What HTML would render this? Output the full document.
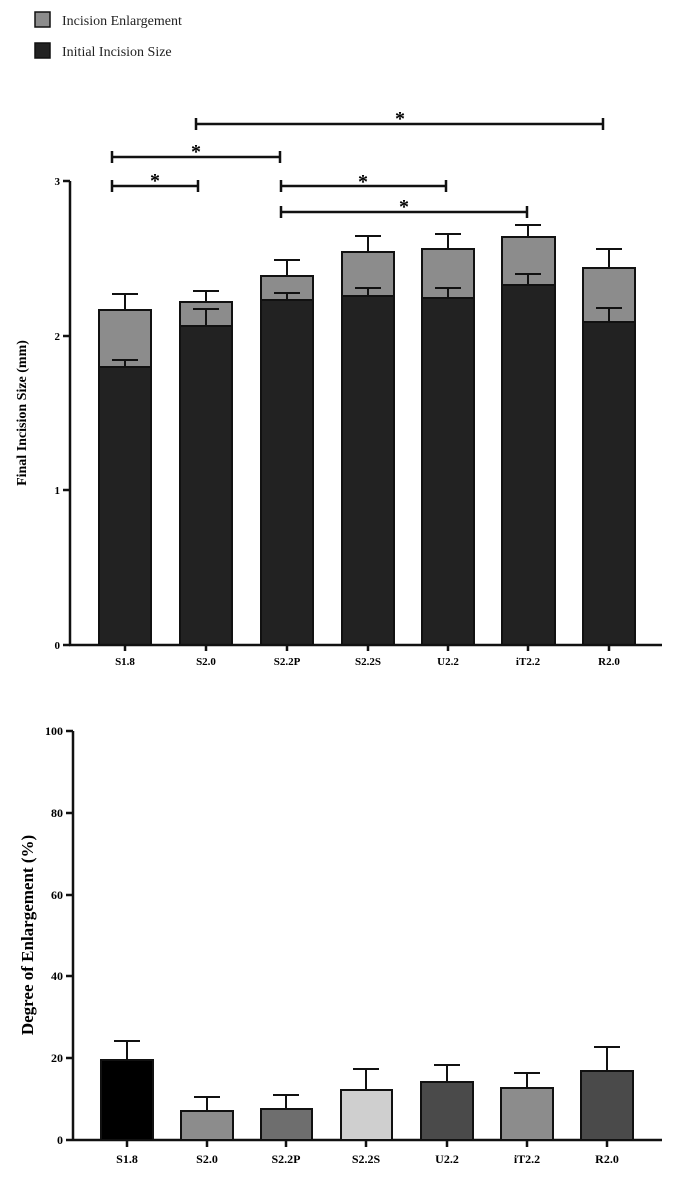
<!DOCTYPE html><html><head><style>body{margin:0;background:#fff}svg{display:block}text{font-family:"Liberation Serif",serif}</style></head><body>
<svg width="700" height="1185" viewBox="0 0 700 1185">
<g stroke="#111" stroke-width="1.5">
<rect x="35" y="12" width="15" height="15" fill="#8c8c8c"/>
<rect x="35" y="43" width="15" height="15" fill="#222"/>
</g>
<text x="62" y="25" font-size="14" fill="#222">Incision Enlargement</text>
<text x="62" y="56" font-size="14" fill="#222">Initial Incision Size</text>
<!-- top axes -->
<g stroke="#111" stroke-width="2.5" fill="none">
<line x1="70" y1="181" x2="70" y2="646"/>
<line x1="63" y1="181" x2="70" y2="181"/><line x1="63" y1="336" x2="70" y2="336"/><line x1="63" y1="490" x2="70" y2="490"/>
<line x1="63" y1="645" x2="70" y2="645"/>
</g>
<g font-size="11" font-weight="bold" text-anchor="end"><text x="60" y="185">3</text><text x="60" y="340">2</text><text x="60" y="494">1</text><text x="60" y="649">0</text></g>
<text transform="translate(26,413) rotate(-90)" font-size="14" font-weight="bold" text-anchor="middle">Final Incision Size (mm)</text>
<g stroke="#111" stroke-width="2">
<!-- bars: x, total, init, errT, errI -->
<rect x="99" y="310" width="52" height="335" fill="#8c8c8c"/><rect x="99" y="367" width="52" height="278" fill="#222"/>
<rect x="180" y="302" width="52" height="343" fill="#8c8c8c"/><rect x="180" y="326" width="52" height="319" fill="#222"/>
<rect x="261" y="276" width="52" height="369" fill="#8c8c8c"/><rect x="261" y="300" width="52" height="345" fill="#222"/>
<rect x="342" y="252" width="52" height="393" fill="#8c8c8c"/><rect x="342" y="296" width="52" height="349" fill="#222"/>
<rect x="422" y="249" width="52" height="396" fill="#8c8c8c"/><rect x="422" y="298" width="52" height="347" fill="#222"/>
<rect x="502" y="237" width="53" height="408" fill="#8c8c8c"/><rect x="502" y="285" width="53" height="360" fill="#222"/>
<rect x="583" y="268" width="52" height="377" fill="#8c8c8c"/><rect x="583" y="322" width="52" height="323" fill="#222"/>
<path fill="none" d="M125 310V294M112 294H138M125 367V360M112 360H138
M206 302V291M193 291H219M206 326V309M193 309H219
M287 276V260M274 260H300M287 300V293M274 293H300
M368 252V236M355 236H381M368 296V288M355 288H381
M448 249V234M435 234H461M448 298V288M435 288H461
M528 237V225M515 225H541M528 285V274M515 274H541
M609 268V249M596 249H622M609 322V308M596 308H622"/>
</g>
<g stroke="#111" stroke-width="2.5" fill="none">
<line x1="69" y1="645" x2="662" y2="645"/>
<path d="M125 645v6M206 645v6M287 645v6M368 645v6M448 645v6M528 645v6M609 645v6"/>
<path d="M112 186H198M112 180v12M198 180v12"/>
<path d="M112 157H280M112 151v12M280 151v12"/>
<path d="M196 124H603M196 118v12M603 118v12"/>
<path d="M281 186H446M281 180v12M446 180v12"/>
<path d="M281 212H527M281 206v12M527 206v12"/>
</g>
<g font-size="20" font-weight="bold" text-anchor="middle"><text x="155" y="187">*</text><text x="196" y="158">*</text><text x="400" y="125">*</text><text x="363" y="188">*</text><text x="404" y="213">*</text></g>
<g font-size="11" font-weight="bold" text-anchor="middle"><text x="125" y="665">S1.8</text><text x="206" y="665">S2.0</text><text x="287" y="665">S2.2P</text><text x="368" y="665">S2.2S</text><text x="448" y="665">U2.2</text><text x="528" y="665">iT2.2</text><text x="609" y="665">R2.0</text></g>
<!-- bottom -->
<g stroke="#111" stroke-width="2.5" fill="none">
<line x1="73" y1="731" x2="73" y2="1141"/>
<path d="M66 731h7M66 813h7M66 895h7M66 976h7M66 1058h7"/>
<line x1="66" y1="1140" x2="662" y2="1140"/>
<path d="M127 1140v7M207 1140v7M286 1140v7M366 1140v7M447 1140v7M527 1140v7M607 1140v7"/>
</g>
<g font-size="12" font-weight="bold" text-anchor="end"><text x="63" y="735">100</text><text x="63" y="817">80</text><text x="63" y="899">60</text><text x="63" y="980">40</text><text x="63" y="1062">20</text><text x="63" y="1144">0</text></g>
<text transform="translate(33,935) rotate(-90)" font-size="17" font-weight="bold" text-anchor="middle">Degree of Enlargement (%)</text>
<g stroke="#111" stroke-width="2">
<rect x="101" y="1060" width="52" height="80" fill="#000"/>
<rect x="181" y="1111" width="52" height="29" fill="#8c8c8c"/>
<rect x="261" y="1109" width="51" height="31" fill="#6e6e6e"/>
<rect x="341" y="1090" width="51" height="50" fill="#cfcfcf"/>
<rect x="421" y="1082" width="52" height="58" fill="#4a4a4a"/>
<rect x="501" y="1088" width="52" height="52" fill="#8c8c8c"/>
<rect x="581" y="1071" width="52" height="69" fill="#4a4a4a"/>
<path fill="none" d="M127 1060V1041M114 1041H140M207 1111V1097M194 1097H220M286 1109V1095M273 1095H299M366 1090V1069M353 1069H379M447 1082V1065M434 1065H460M527 1088V1073M514 1073H540M607 1071V1047M594 1047H620"/>
</g>
<g font-size="12" font-weight="bold" text-anchor="middle"><text x="127" y="1163">S1.8</text><text x="207" y="1163">S2.0</text><text x="286" y="1163">S2.2P</text><text x="366" y="1163">S2.2S</text><text x="447" y="1163">U2.2</text><text x="527" y="1163">iT2.2</text><text x="607" y="1163">R2.0</text></g>
</svg></body></html>
